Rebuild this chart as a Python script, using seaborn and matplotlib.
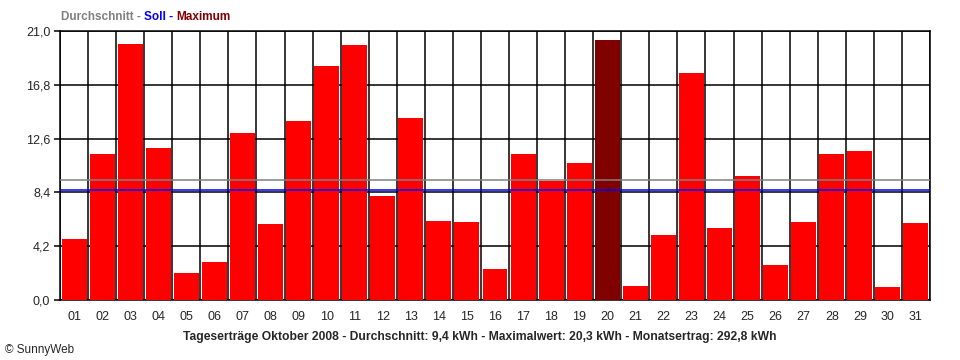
import numpy as np
import pandas as pd
import matplotlib
matplotlib.use("Agg")
import matplotlib.pyplot as plt
import seaborn as sns

# daily yield, October 2008 (kWh)
days = [f"{d:02d}" for d in range(1, 32)]
ertrag = [4.8, 11.4, 20.0, 11.9, 2.1, 3.0, 13.0, 5.9, 14.0, 18.3,
          19.9, 8.1, 14.2, 6.2, 6.1, 2.4, 11.4, 9.3, 10.7, 20.3,
          1.1, 5.1, 17.7, 5.6, 9.7, 2.7, 6.1, 11.4, 11.6, 1.0, 6.0]
durchschnitt = 9.4
soll = 8.55
yticks = [0.0, 4.2, 8.4, 12.6, 16.8, 21.0]


def main():
    sns.set_style("white")
    plt.rcParams['font.family'] = ['Liberation Sans', 'DejaVu Sans']

    df = pd.DataFrame({'tag': days, 'ertrag': ertrag})
    imax = int(np.argmax(ertrag))
    colors = ['#ff0000'] * len(days)
    colors[imax] = '#800000'

    fig = plt.figure(figsize=(9.6, 3.6), dpi=100)
    ax = fig.add_axes([60 / 960, 60 / 360, 870 / 960, 269 / 360])

    sns.barplot(x='tag', y='ertrag', hue='tag', data=df, palette=colors,
                width=0.89, legend=False, ax=ax, zorder=2, saturation=1,
                linewidth=0)

    ax.axhline(durchschnitt, color='#808080', lw=1.1, zorder=3)
    ax.axhline(soll, color='#0000ff', lw=1.1, zorder=3)

    ax.set_xlim(-0.5, len(days) - 0.5)
    ax.set_ylim(0, 21.0)
    ax.set_yticks(yticks)
    ax.set_yticklabels([f"{v:.1f}".replace('.', ',') for v in yticks])
    ax.set_xticks(range(len(days)))
    ax.set_xticklabels(days)
    ax.set_xticks(np.arange(-0.5, len(days)), minor=True)

    ax.grid(False)
    for v in yticks:
        ax.axhline(v, color='black', lw=1.1, zorder=1)
    for b in np.arange(-0.5, len(days)):
        ax.axvline(b, color='black', lw=1.1, zorder=1)
    for s in ax.spines.values():
        s.set_color('black')
        s.set_linewidth(1.1)
        s.set_zorder(1)

    ax.tick_params(axis='x', which='major', length=0, pad=8, labelsize=9)
    ax.tick_params(axis='x', which='minor', length=4, width=1.1,
                   direction='out', color='black')
    ax.tick_params(axis='y', length=4, width=1.1, pad=3, labelsize=9,
                   color='black', left=True)
    ax.set_xlabel("")
    ax.set_ylabel("")

    # header legend text
    x0 = 61 / 960
    y0 = 1 - 17 / 360
    t = fig.text(x0, y0, "Durchschnitt - ", color='#808080', fontsize=8.5,
                 fontweight='bold', va='center')
    fig.canvas.draw()
    r = fig.canvas.get_renderer()
    bb = t.get_window_extent(r)
    t2 = fig.text(bb.x1 / 960, y0, "Soll - ", color='#0000ff', fontsize=8.5,
                  fontweight='bold', va='center')
    bb2 = t2.get_window_extent(r)
    fig.text(bb2.x1 / 960, y0, "Maximum", color='#800000', fontsize=8.5,
             fontweight='bold', va='center')

    fig.text(480 / 960, 1 - 337 / 360,
             "Tageserträge Oktober 2008 - Durchschnitt: 9,4 kWh - "
             "Maximalwert: 20,3 kWh - Monatsertrag: 292,8 kWh",
             ha='center', va='center', fontsize=8.75, fontweight='bold')
    fig.text(5 / 960, 1 - 350 / 360, "© SunnyWeb", ha='left', va='center',
             fontsize=8.5)

    fig.savefig("out.png", dpi=100)
    plt.close('all')


if __name__ == "__main__":
    main()
